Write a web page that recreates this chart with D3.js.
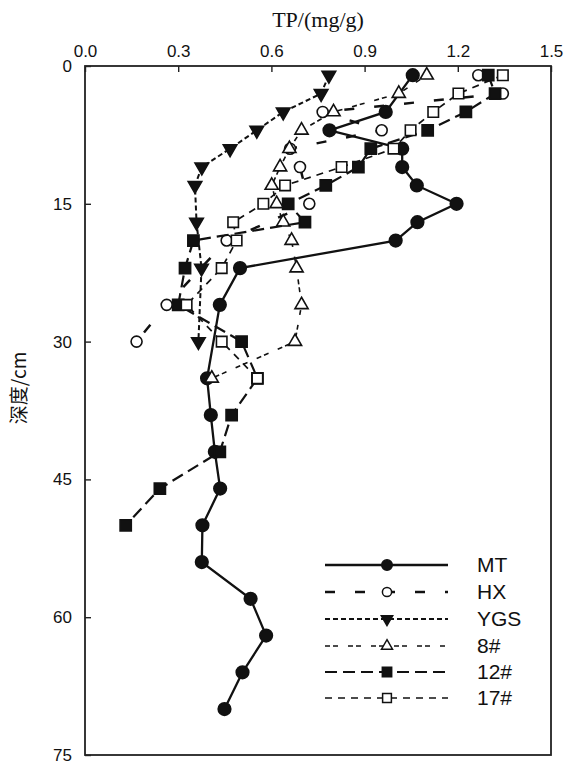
<!DOCTYPE html>
<html>
<head>
<meta charset="utf-8">
<script src="https://cdn.jsdelivr.net/npm/d3@7"></script>
<style>
  body { margin: 0; background: #fff; }
  text { fill: #111; }
</style>
</head>
<body>
<div id="chart"></div>
<script>
// depth (cm) and TP (mg/g)
const mtDepth = [1, 5, 7, 9, 11, 13, 15, 17, 19, 22, 26, 34, 38, 42, 46, 50, 54, 58, 62, 66, 70];
const mtTP = [1.055, 0.968, 0.787, 1.021, 1.021, 1.068, 1.196, 1.07, 1.0, 0.499, 0.434, 0.393, 0.405, 0.418, 0.435, 0.378, 0.376, 0.533, 0.583, 0.507, 0.449];

const hxDepth = [1, 3, 5, 7, 9, 11, 15, 19, 26, 30];
const hxTP = [1.266, 1.345, 0.765, 0.955, 0.66, 0.692, 0.722, 0.456, 0.263, 0.166];

const ygsDepth = [1, 3, 5, 7, 9, 11, 13, 17, 22, 30];
const ygsTP = [0.785, 0.76, 0.638, 0.553, 0.467, 0.376, 0.354, 0.359, 0.375, 0.365];

const s8Depth = [1, 3, 5, 7, 9, 11, 13, 15, 17, 19, 22, 26, 30, 34];
const s8TP = [1.1, 1.01, 0.80, 0.697, 0.658, 0.628, 0.601, 0.617, 0.638, 0.665, 0.681, 0.697, 0.676, 0.408];

const s12Depth = [1, 3, 5, 7, 9, 11, 13, 15, 17, 19, 22, 26, 30, 34, 38, 42, 46, 50];
const s12TP = [1.298, 1.32, 1.226, 1.103, 0.92, 0.88, 0.775, 0.654, 0.708, 0.349, 0.322, 0.30, 0.504, 0.555, 0.472, 0.434, 0.241, 0.131];

const s17Depth = [1, 3, 5, 7, 9, 11, 13, 15, 17, 19, 22, 26, 30, 34];
const s17TP = [1.345, 1.202, 1.121, 1.048, 0.993, 0.826, 0.644, 0.574, 0.477, 0.488, 0.44, 0.327, 0.44, 0.555];

const xTicks = [0, 0.3, 0.6, 0.9, 1.2, 1.5];
const yTicks = [0, 15, 30, 45, 60, 75];

const series = [
    { name: 'MT', depth: mtDepth, tp: mtTP, symbol: d3.symbolCircle, size: 125, fill: '#111', dash: null, width: 2.3 },
    { name: 'HX', depth: hxDepth, tp: hxTP, symbol: d3.symbolCircle, size: 95, fill: '#fff', dash: '10,20', width: 2.5 },
    { name: 'YGS', depth: ygsDepth, tp: ygsTP, symbol: d3.symbolTriangle, size: 80, fill: '#111', dash: '5,3', width: 2, rotate: 180 },
    { name: '8#', depth: s8Depth, tp: s8TP, symbol: d3.symbolTriangle, size: 75, fill: '#fff', dash: '5,3,5,10', width: 1.6 },
    { name: '12#', depth: s12Depth, tp: s12TP, symbol: d3.symbolSquare, size: 125, fill: '#111', dash: '12,6', width: 2.2 },
    { name: '17#', depth: s17Depth, tp: s17TP, symbol: d3.symbolSquare, size: 110, fill: '#fff', dash: '7,6', width: 1.7 }
];

const margin = { top: 66, right: 18, bottom: 9, left: 85 };
const width = 569 - margin.left - margin.right;
const height = 764 - margin.top - margin.bottom;

const svg = d3.select('#chart').append('svg')
    .attr('width', 569)
    .attr('height', 764);

const g = svg.append('g')
    .attr('transform', `translate(${margin.left},${margin.top})`);

const x = d3.scaleLinear().domain([0, 1.5]).range([0, width]);
const y = d3.scaleLinear().domain([0, 75]).range([0, height]);

// frame
g.append('rect')
    .attr('width', width)
    .attr('height', height)
    .attr('fill', 'none')
    .attr('stroke', '#222')
    .attr('stroke-width', 1.8);

// axes (ticks point inward)
const xAxis = g.append('g')
    .call(d3.axisTop(x).tickValues(xTicks).tickFormat(d3.format('.1f')).tickSizeInner(-6).tickSizeOuter(0).tickPadding(9));
const yAxis = g.append('g')
    .call(d3.axisLeft(y).tickValues(yTicks).tickSizeInner(-6).tickSizeOuter(0).tickPadding(13));

[xAxis, yAxis].forEach(ax => {
    ax.select('.domain').remove();
    ax.selectAll('line').attr('stroke', '#222').attr('stroke-width', 1.4);
    ax.selectAll('text')
        .style('font-family', 'Liberation Sans, Arial, sans-serif')
        .style('font-size', '17px')
        .attr('fill', '#111');
});

svg.append('text')
    .attr('x', margin.left + width / 2)
    .attr('y', 27)
    .attr('text-anchor', 'middle')
    .style('font-family', 'Liberation Serif, Times New Roman, serif')
    .style('font-size', '22px')
    .text('TP/(mg/g)');

svg.append('text')
    .attr('transform', 'translate(26,388) rotate(-90)')
    .attr('text-anchor', 'middle')
    .style('font-family', 'Noto Sans CJK SC, Liberation Serif, serif')
    .style('font-size', '19px')
    .text('深度/cm');

const line = d3.line()
    .x(d => x(d.tp))
    .y(d => y(d.depth));

function marker(s) {
    return d3.symbol().type(s.symbol).size(s.size)();
}

series.forEach(s => {
    const pts = s.depth.map((dp, i) => ({ depth: dp, tp: s.tp[i] }));
    const sg = g.append('g');
    sg.append('path')
        .datum(pts)
        .attr('d', line)
        .attr('fill', 'none')
        .attr('stroke', '#111')
        .attr('stroke-width', s.width)
        .attr('stroke-dasharray', s.dash);
    sg.selectAll('path.pt')
        .data(pts)
        .enter()
        .append('path')
        .attr('class', 'pt')
        .attr('d', marker(s))
        .attr('transform', d => `translate(${x(d.tp)},${y(d.depth)}) rotate(${s.rotate || 0})`)
        .attr('fill', s.fill)
        .attr('stroke', '#111')
        .attr('stroke-width', 1.6);
});

// legend
const legend = svg.append('g');
const legendY = [565, 592, 619, 646, 672, 698];
series.forEach((s, i) => {
    const row = legend.append('g').attr('transform', `translate(0,${legendY[i]})`);
    row.append('line')
        .attr('x1', 325).attr('x2', 448)
        .attr('stroke', '#111')
        .attr('stroke-width', s.width)
        .attr('stroke-dasharray', s.dash);
    row.append('path')
        .attr('d', d3.symbol().type(s.symbol).size(s.size * 0.7)())
        .attr('transform', `translate(387,0) rotate(${s.rotate || 0})`)
        .attr('fill', s.fill)
        .attr('stroke', '#111')
        .attr('stroke-width', 1.5);
    row.append('text')
        .attr('x', 477)
        .attr('y', 7)
        .style('font-family', 'Liberation Sans, Arial, sans-serif')
        .style('font-size', '21px')
        .text(s.name);
});
</script>
</body>
</html>
